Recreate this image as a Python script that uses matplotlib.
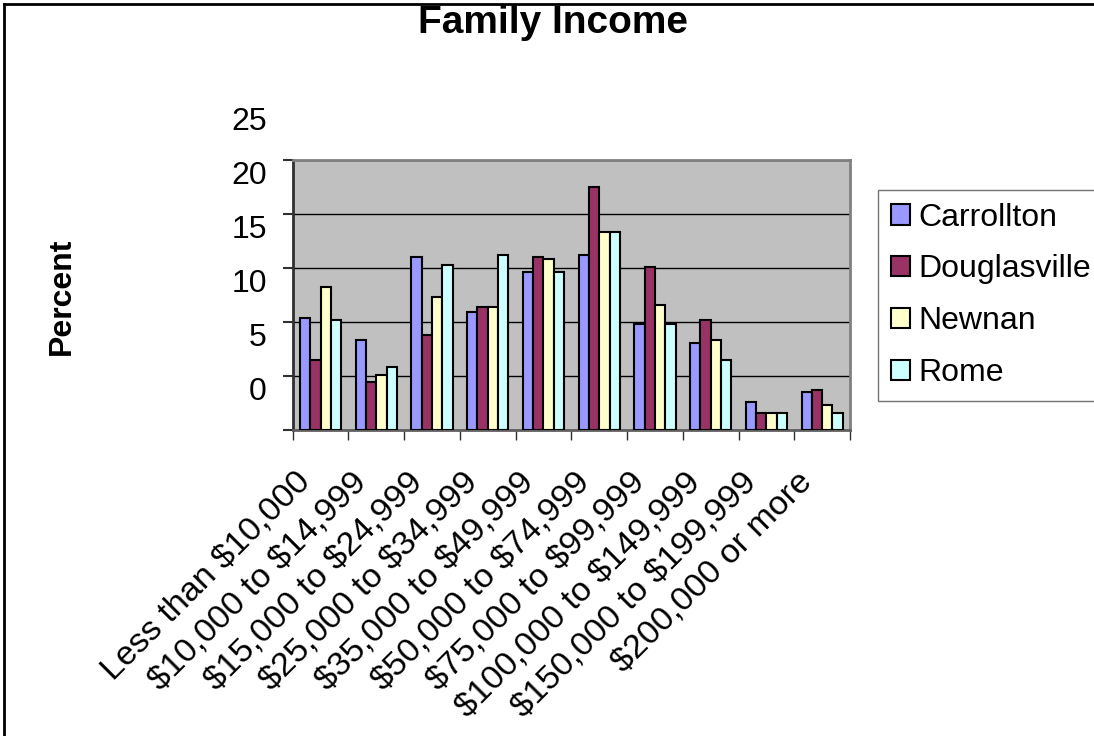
import numpy as np
import matplotlib
matplotlib.use('Agg')
import matplotlib.pyplot as plt
from matplotlib.lines import Line2D
from matplotlib.transforms import ScaledTranslation

plt.rcParams['font.family'] = ['Liberation Sans', 'DejaVu Sans']
plt.rcParams['text.parse_math'] = False

# percent of families in each income bracket
brackets = ['Less than $10,000', '$10,000 to $14,999', '$15,000 to $24,999',
            '$25,000 to $34,999', '$35,000 to $49,999', '$50,000 to $74,999',
            '$75,000 to $99,999', '$100,000 to $149,999', '$150,000 to $199,999',
            '$200,000 or more']
carrollton = [10.4, 8.3, 16.0, 10.9, 14.6, 16.2, 9.8, 8.1, 2.6, 3.5]
douglasville = [6.5, 4.4, 8.8, 11.4, 16.0, 22.5, 15.1, 10.2, 1.6, 3.7]
newnan = [13.2, 5.1, 12.3, 11.4, 15.8, 18.3, 11.6, 8.3, 1.6, 2.3]
rome = [10.2, 5.8, 15.3, 16.2, 14.6, 18.3, 9.8, 6.5, 1.6, 1.6]
cities = ['Carrollton', 'Douglasville', 'Newnan', 'Rome']
yticks = [0, 5, 10, 15, 20, 25]

series = [carrollton, douglasville, newnan, rome]
colors = ['#9999FF', '#993366', '#FFFFCC', '#CCFFFF']
fs = 23

W, H = 1094, 736
fig = plt.figure(figsize=(W / 100, H / 100), dpi=100)
ax = fig.add_axes([292.7 / W, 1 - 430 / H, (850 - 292.7) / W, 270 / H])
ax.set_facecolor('#C0C0C0')

x = np.arange(len(brackets))
bw = 0.185
for k, (vals, col, name) in enumerate(zip(series, colors, cities)):
    ax.bar(x + (k - 1.5) * bw, vals, bw, color=col, edgecolor='black',
           linewidth=1.5, label=name, zorder=3)

ax.set_xlim(-0.5, len(brackets) - 0.5)
ax.set_ylim(0, 25)
ax.set_yticks(yticks)
ax.yaxis.grid(True, color='black', linewidth=1)
ax.set_axisbelow(True)
ax.set_xticks(np.arange(len(brackets) + 1) - 0.5)
ax.tick_params(axis='x', length=7, width=1, color='#303030', labelbottom=False)
ax.tick_params(axis='y', length=7, width=1.5, color='#303030', labelleft=False)
for s in ['top', 'right']:
    ax.spines[s].set_color('#808080')
    ax.spines[s].set_linewidth(2)
ax.spines['left'].set_color('#303030')
ax.spines['left'].set_linewidth(2)
ax.spines['bottom'].set_color('#606060')
ax.spines['bottom'].set_linewidth(2)

# y labels sit a bit above their gridlines
ylab_tr = ax.get_yaxis_transform() + ScaledTranslation(-0.26, 0.38, fig.dpi_scale_trans)
for v in yticks:
    ax.text(0, v, str(v), transform=ylab_tr, ha='right', va='center', fontsize=fs)

xlab_tr = ax.get_xaxis_transform() + ScaledTranslation(-0.25, -0.37, fig.dpi_scale_trans)
for i, lbl in enumerate(brackets):
    ax.text(i, 0, lbl, transform=xlab_tr, rotation=45, ha='right', va='top',
            rotation_mode='anchor', fontsize=24.5)

fig.text(553 / W, 1 - 33 / H, 'Family Income', ha='center', va='baseline',
         fontsize=28, fontweight='bold')
fig.text(62 / W, 1 - 296 / H, 'Percent', ha='center', va='center', rotation=90,
         fontsize=fs, fontweight='bold')

leg = fig.legend(loc='upper left', bbox_to_anchor=(878 / W, 1 - 190 / H),
                 borderaxespad=0, fontsize=fs, frameon=True, fancybox=False,
                 edgecolor='#505050', handlelength=0.6, handleheight=0.6,
                 handletextpad=0.25, labelspacing=0.68, borderpad=0.4)
leg.get_frame().set_linewidth(1)

# outer chart border
fig.add_artist(Line2D([4 / W, 4 / W], [0, 1 - 4 / H], transform=fig.transFigure,
                      color='black', linewidth=2))
fig.add_artist(Line2D([4 / W, 1], [1 - 4 / H, 1 - 4 / H], transform=fig.transFigure,
                      color='black', linewidth=2))

fig.savefig('out.png', dpi=100)
